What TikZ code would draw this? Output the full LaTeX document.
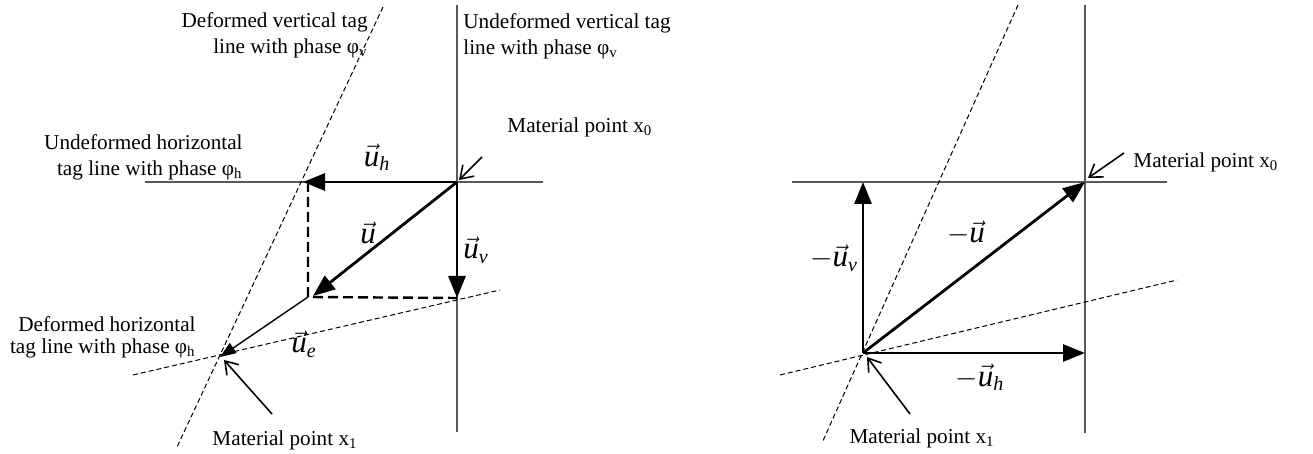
\documentclass[tikz,border=0pt]{standalone}
\usepackage{fontspec}
\setmainfont{Liberation Serif}
\usetikzlibrary{arrows.meta}
\newcommand\myvec[1]{\ensuremath{\vec{\hbox{\itshape #1}}}}
\newcommand\mysub[1]{\ensuremath{_{\hbox{\fontsize{10}{10}\selectfont\itshape #1}}}}
\begin{document}
\begin{tikzpicture}[x=0.5pt,y=-0.5pt,
  tagline/.style={line width=0.6pt, black!65},
  dtag/.style={line width=0.5pt, dash pattern=on 2.5pt off 1.5pt},
  vecarrow/.style={line width=1.4pt, -{Triangle[length=11pt,width=8.5pt]}},
  thinvec/.style={line width=0.7pt, -{Triangle[length=8pt,width=6pt]}},
  comp/.style={line width=1.2pt, dash pattern=on 5pt off 2.5pt},
  pointer/.style={line width=0.8pt, -{Straight Barb[length=6pt,width=8pt]}},
  lbl/.style={font=\fontsize{10.6}{13}\selectfont, inner sep=0pt},
  vlbl/.style={font=\fontsize{15.5}{18}\selectfont, inner sep=0pt}]
\useasboundingbox (0,0) rectangle (1313,454);
% ---------- left panel ----------
\coordinate (A0) at (457,182);
\coordinate (A1) at (220,357);
\coordinate (Ah) at (303,182);
\coordinate (Av) at (457,298);
\coordinate (Au) at (313,296);
\coordinate (Ac) at (308,297);
\coordinate (Ave1) at (457,5);   \coordinate (Ave2) at (457,432);
\coordinate (Aho1) at (145,182); \coordinate (Aho2) at (543,182);
\coordinate (Adv1) at (383,7);   \coordinate (Adv2) at (177,447);
\coordinate (Adh1) at (133,375); \coordinate (Adh2) at (500,290);
\draw[tagline] (Ave1) -- (Ave2);
\draw[tagline] (Aho1) -- (Aho2);
\draw[dtag] (Adv1) -- (Adv2);
\draw[dtag] (Adh1) -- (Adh2);
\draw[comp] (Ac |- Ah) -- (Ac) -- (Av);
\draw[vecarrow] (A0) -- (Ah);
\draw[vecarrow] (A0) -- (Av);
\draw[vecarrow] (A0) -- (Au);
\draw[thinvec] (Ac) -- (A1);
\coordinate (Ap0) at (482,157);
\coordinate (Ap1) at (272,414);
\draw[pointer] (Ap0) -- (459,180);
\draw[pointer] (Ap1) -- (224,360);
\node[lbl, align=right, anchor=east] (Ldv) at (368,35) {Deformed vertical tag\\line with phase φ\textsubscript{v}};
\node[lbl, align=left, anchor=west] (Luv) at (463,36) {Undeformed vertical tag\\line with phase φ\textsubscript{v}};
\node[lbl, align=right, anchor=east] (Luh) at (243,157) {Undeformed horizontal\\tag line with phase φ\textsubscript{h}};
\node[lbl, align=right, anchor=east, font=\fontsize{10.6}{11}\selectfont] (Ldh) at (196,337) {Deformed horizontal\\tag line with phase φ\textsubscript{h}};
\node[lbl, anchor=west] (Lx0) at (507,127) {Material point x\textsubscript{0}};
\node[lbl] (Lx1) at (285,440) {Material point x\textsubscript{1}};
\node[vlbl] (Lvh) at (377,157) {\myvec{u}\mysub{h}};
\node[vlbl] (Lvu) at (368,233) {\myvec{u}};
\node[vlbl] (Lvv) at (476,250) {\myvec{u}\mysub{v}};
\node[vlbl] (Lve) at (304,344) {\myvec{u}\mysub{e}};
% ---------- right panel ----------
\coordinate (B0) at (1085,182);
\coordinate (B1) at (863,353);
\coordinate (Bv) at (863,182);
\coordinate (Bh) at (1085,353);
\coordinate (Bve1) at (1085,5);   \coordinate (Bve2) at (1085,433);
\coordinate (Bho1) at (792,182);  \coordinate (Bho2) at (1167,182);
\coordinate (Bdv1) at (1018,5);   \coordinate (Bdv2) at (822,443);
\coordinate (Bdh1) at (780,375);  \coordinate (Bdh2) at (1177,280);
\draw[tagline] (Bve1) -- (Bve2);
\draw[tagline] (Bho1) -- (Bho2);
\draw[dtag] (Bdv1) -- (Bdv2);
\draw[dtag] (Bdh1) -- (Bdh2);
\draw[vecarrow] (B1) -- (B0);
\draw[vecarrow] (B1) -- (Bv);
\draw[vecarrow] (B1) -- (Bh);
\coordinate (Bp0) at (1124,153);
\coordinate (Bp1) at (910,414);
\draw[pointer] (Bp0) -- (1088,178);
\draw[pointer] (Bp1) -- (867,357);
\node[lbl, anchor=west] (Rx0) at (1133,162) {Material point x\textsubscript{0}};
\node[lbl] (Rx1) at (922,438) {Material point x\textsubscript{1}};
\node[vlbl] (Ru) at (966,233) {$-$\myvec{u}};
\node[vlbl] (Ruv) at (834,258) {$-$\myvec{u}\mysub{v}};
\node[vlbl] (Ruh) at (980,377) {$-$\myvec{u}\mysub{h}};
\end{tikzpicture}
\end{document}
